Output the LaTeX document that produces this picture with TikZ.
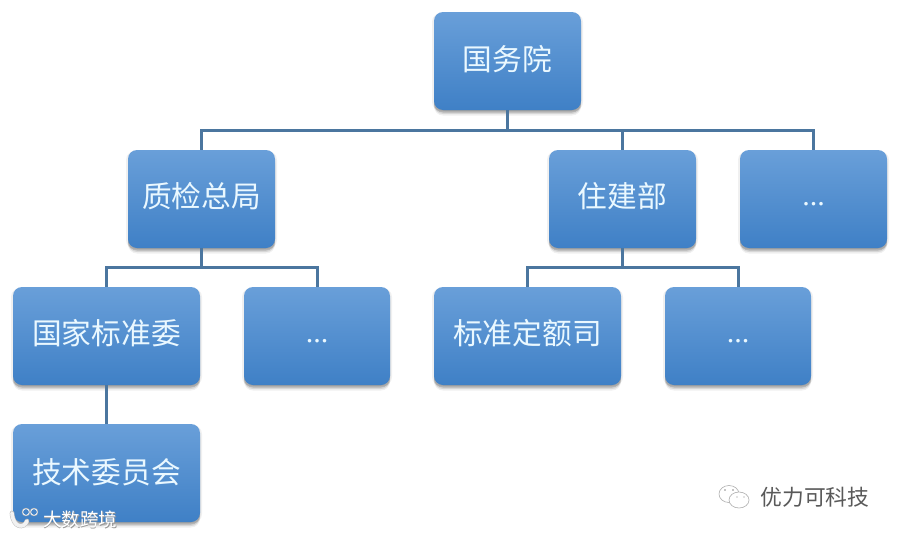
\documentclass[tikz,border=0pt]{standalone}
\usepackage{fontspec}
\setmainfont{Noto Sans CJK SC}
\newfontfamily\dotsfont{Liberation Serif}
\definecolor{boxtop}{HTML}{699FD9}
\definecolor{boxbot}{HTML}{3F80C6}
\definecolor{boxtxt}{HTML}{EAF8FF}
\definecolor{linkc}{HTML}{4B769F}
\definecolor{markc}{HTML}{8A8A8A}
\newcommand{\boxlabel}[2][-8pt]{\smash{\raisebox{#1}{#2}}}
\newcommand{\boxdots}{\smash{\raisebox{-6.5pt}{...}}}
\tikzset{
  x=1pt,y=-1pt,
  orgbox/.style={rectangle,rounded corners=9pt,inner sep=0pt,text=boxtxt,font=\fontsize{29.7}{32}\selectfont,
    minimum height=98pt,top color=boxtop,bottom color=boxbot,draw=none,
    preaction={fill=black,fill opacity=.06,transform canvas={yshift=-5.5pt}},
    preaction={fill=black,fill opacity=.10,transform canvas={yshift=-4pt}},
    preaction={fill=black,fill opacity=.16,transform canvas={yshift=-2.5pt}},
    preaction={fill=black,fill opacity=.06,transform canvas={xshift=2pt,yshift=-1pt}},
    preaction={fill=black,fill opacity=.06,transform canvas={xshift=-2pt,yshift=-1pt}}},
  narrowbox/.style={orgbox,minimum width=147pt},
  widebox/.style={orgbox,minimum width=187pt},
  dotted label/.style={font=\dotsfont\fontsize{30}{32}\selectfont},
  link/.style={draw=linkc,line width=3pt},
  marktext/.style={text=markc,inner sep=0pt},
}
\begin{document}
\begin{tikzpicture}
\useasboundingbox (0,0) rectangle (898,536);
\fill[white] (0,0) rectangle (898,536);
\coordinate (busA) at (507.5,130);
\coordinate (busB) at (201.5,267);
\coordinate (busC) at (622.5,267);
\node[narrowbox] (root) at (507.5,61) {\boxlabel[-9pt]{国务院}};
\node[narrowbox] (zj) at (201.5,199) {\boxlabel{质检总局}};
\node[narrowbox] (zjb) at (622.5,199) {\boxlabel{住建部}};
\node[narrowbox,dotted label] (d1) at (813.5,199) {\boxdots};
\node[widebox] (gb) at (106.5,336) {\boxlabel{国家标准委}};
\node[narrowbox,minimum width=146pt,dotted label] (d2) at (317,336) {\boxdots};
\node[widebox] (de) at (527.5,336) {\boxlabel{标准定额司}};
\node[narrowbox,minimum width=146pt,dotted label] (d3) at (738,336) {\boxdots};
\node[widebox] (js) at (106.5,473) {\boxlabel[-10pt]{技术委员会}};
\draw[link] (root.south) -- (busA);
\draw[link] (zj.north) |- (busA);
\draw[link] (zjb.north) |- (busA);
\draw[link] (d1.north) |- (busA);
\draw[link] (zj.south) -- (busB);
\draw[link] (gb.north) |- (busB);
\draw[link] (d2.north) |- (busB);
\draw[link] (zjb.south) -- (busC);
\draw[link] (de.north) |- (busC);
\draw[link] (d3.north) |- (busC);
\draw[link] (gb.south) -- (js.north);
% account mark
\draw[markc!70,line width=.6pt,fill=white] (729,494) ellipse (10 and 8.5);
\draw[markc!70,line width=.6pt,fill=white] (739,500) ellipse (10 and 8);
\fill[markc] (725,490) circle (.8) (733,490) circle (.8) (737,497) circle (.7) (744,497) circle (.7);
\node[marktext,font=\fontsize{21.8}{24}\selectfont,text=black!65] (brand) at (815,497) {优力可科技};
% bottom-left watermark
\draw[black!25,line width=4.6pt,line cap=round] (12,513) .. controls (13,528) and (24,529) .. (27,521);
\draw[white!90!gray,line width=3.6pt,line cap=round] (12,513) .. controls (13,528) and (24,529) .. (27,521);
\draw[white,line width=1pt] (26,512) circle (3.5) (34,512) circle (3.5);
\draw[black!35,line width=.35pt] (26,512) circle (4) (34,512) circle (4);
\node[marktext,font=\fontsize{18.5}{20}\selectfont,text=black!40] (wmshadow) at (80.7,520.2) {大数跨境};
\node[marktext,font=\fontsize{18.5}{20}\selectfont,text=white] (wm) at (80,519.5) {大数跨境};
\end{tikzpicture}
\end{document}
